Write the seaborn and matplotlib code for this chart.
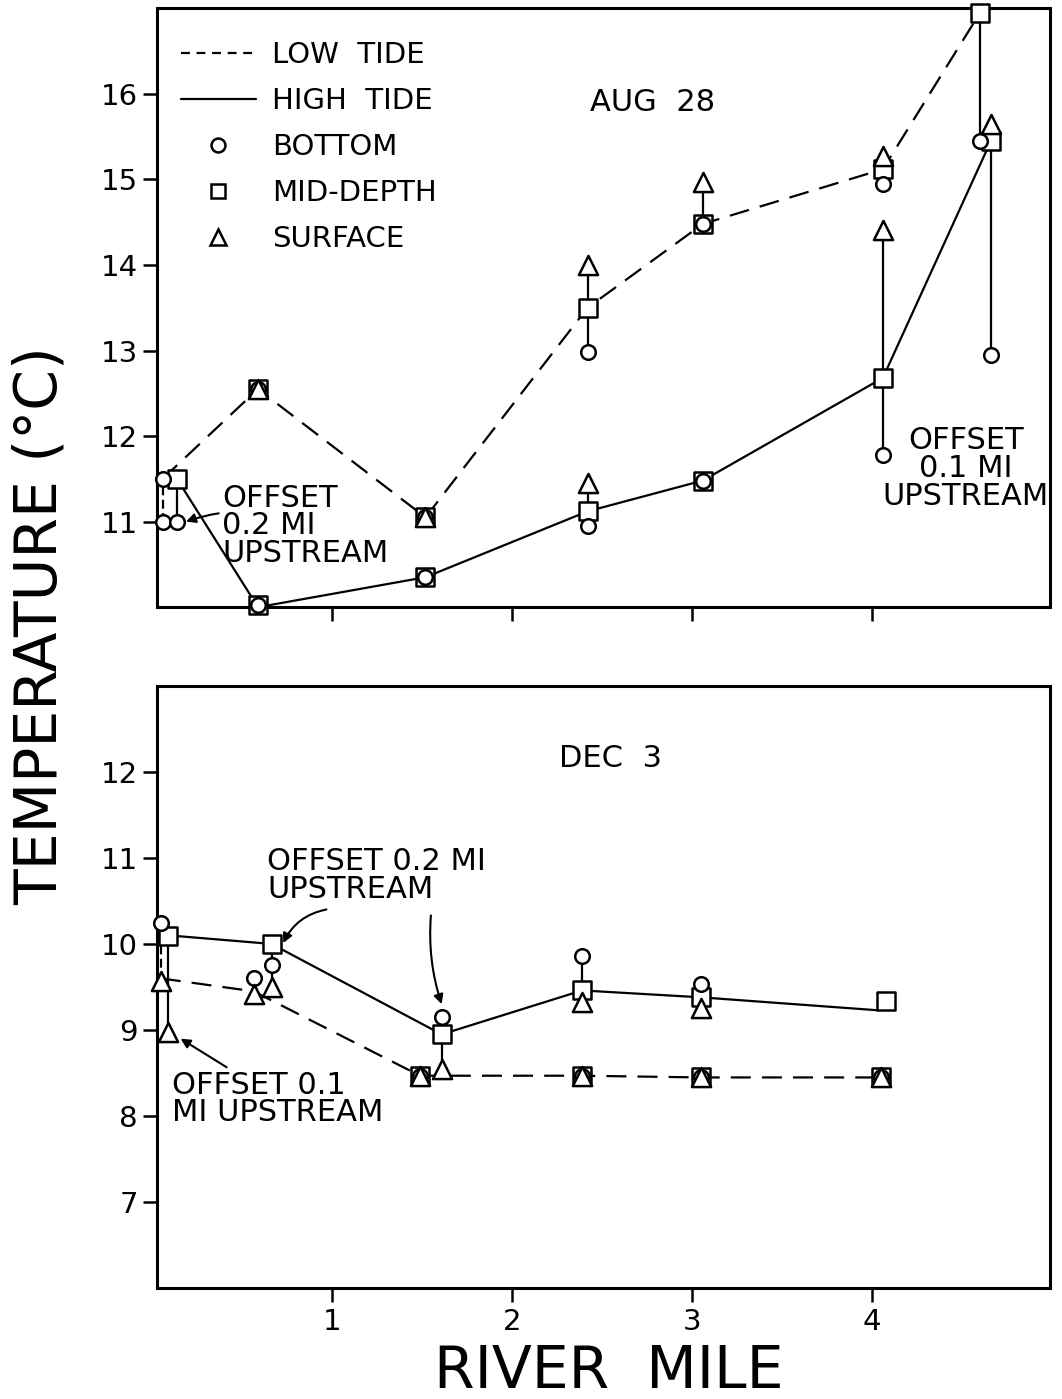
import pandas as pd
import matplotlib
matplotlib.use("Agg")
import matplotlib.pyplot as plt
from matplotlib.lines import Line2D
import seaborn as sns

# ---- Aug 28: tide lines
aug_low_mile = [0.06, 0.59, 1.52, 2.42, 3.06, 4.06, 4.60]
aug_low_temp = [11.5, 12.55, 11.05, 13.5, 14.48, 15.12, 16.95]
aug_high_mile = [0.14, 0.59, 1.52, 2.42, 3.06, 4.06, 4.66]
aug_high_temp = [11.5, 10.0, 10.35, 11.12, 11.48, 12.68, 15.45]

# ---- Aug 28: individual depth readings
aug_tide = ["low", "low", "high", "high",
            "low", "low", "low", "high", "high",
            "low", "low", "low", "high", "high",
            "low", "low", "low", "high", "high", "high",
            "low", "low", "low", "high", "high",
            "low", "low", "low", "high", "high", "high",
            "low", "low", "high", "high", "high"]
aug_mile = [0.06, 0.06, 0.14, 0.14,
            0.59, 0.59, 0.59, 0.59, 0.59,
            1.52, 1.52, 1.52, 1.52, 1.52,
            2.42, 2.42, 2.42, 2.42, 2.42, 2.42,
            3.06, 3.06, 3.06, 3.06, 3.06,
            4.06, 4.06, 4.06, 4.06, 4.06, 4.06,
            4.60, 4.60, 4.66, 4.66, 4.66]
aug_depth = ["bottom", "bottom", "mid", "bottom",
             "mid", "bottom", "surface", "mid", "bottom",
             "mid", "bottom", "surface", "mid", "bottom",
             "surface", "mid", "bottom", "surface", "mid", "bottom",
             "surface", "mid", "bottom", "mid", "bottom",
             "surface", "mid", "bottom", "surface", "mid", "bottom",
             "mid", "bottom", "surface", "mid", "bottom"]
aug_temp = [11.5, 11.0, 11.5, 11.0,
            12.55, 12.55, 12.55, 10.02, 10.02,
            11.05, 11.05, 11.05, 10.35, 10.35,
            14.0, 13.5, 12.98, 11.45, 11.12, 10.95,
            14.97, 14.48, 14.48, 11.48, 11.48,
            15.27, 15.12, 14.95, 14.41, 12.68, 11.78,
            16.95, 15.45, 15.65, 15.45, 12.95]

# ---- Dec 3: tide lines
dec_low_mile = [0.05, 0.565, 1.49, 2.39, 3.05, 4.05]
dec_low_temp = [9.6, 9.45, 8.47, 8.47, 8.45, 8.45]
dec_high_mile = [0.09, 0.665, 1.61, 2.39, 3.05, 4.03]
dec_high_temp = [10.1, 10.0, 8.95, 9.46, 9.38, 9.23]

# ---- Dec 3: individual depth readings
dec_tide = ["low", "low", "high", "high",
            "low", "low", "high", "high", "high",
            "low", "low", "low", "high", "high", "high",
            "low", "low", "low", "high", "high", "high",
            "low", "low", "low", "high", "high", "high",
            "low", "low", "low", "high"]
dec_mile = [0.05, 0.05, 0.09, 0.09,
            0.565, 0.565, 0.665, 0.665, 0.665,
            1.49, 1.49, 1.49, 1.61, 1.61, 1.61,
            2.39, 2.39, 2.39, 2.39, 2.39, 2.39,
            3.05, 3.05, 3.05, 3.05, 3.05, 3.05,
            4.05, 4.05, 4.05, 4.08]
dec_depth = ["bottom", "surface", "mid", "surface",
             "bottom", "surface", "mid", "bottom", "surface",
             "mid", "bottom", "surface", "bottom", "mid", "surface",
             "mid", "bottom", "surface", "bottom", "mid", "surface",
             "mid", "bottom", "surface", "bottom", "mid", "surface",
             "mid", "bottom", "surface", "mid"]
dec_temp = [10.24, 9.57, 10.09, 8.98,
            9.6, 9.42, 10.0, 9.76, 9.5,
            8.47, 8.47, 8.47, 9.15, 8.95, 8.55,
            8.47, 8.47, 8.47, 9.86, 9.46, 9.32,
            8.45, 8.45, 8.45, 9.53, 9.38, 9.26,
            8.45, 8.45, 8.45, 9.34]

y_ticks_aug = [11, 12, 13, 14, 15, 16]
y_ticks_dec = [7, 8, 9, 10, 11, 12]
x_ticks = [1, 2, 3, 4]

sns.set_theme(style="ticks")
plt.rcParams["font.family"] = ["DejaVu Sans"]
plt.rcParams["text.color"] = "black"
plt.rcParams["axes.labelcolor"] = "black"

markers = {"mid": ("s", 150), "bottom": ("o", 110), "surface": ("^", 190)}

fig = plt.figure(figsize=(10.62, 13.99), dpi=100)
ax1 = fig.add_axes([0.148, 0.566, 0.841, 0.428])
ax2 = fig.add_axes([0.148, 0.079, 0.841, 0.431])


def draw_panel(ax, low_m, low_t, high_m, high_t, tide, mile, depth, temp):
    lines = pd.DataFrame({
        "mile": low_m + high_m,
        "temp": low_t + high_t,
        "tide": ["low"] * len(low_m) + ["high"] * len(high_m),
    })
    sns.lineplot(data=lines, x="mile", y="temp", style="tide",
                 dashes={"low": (9, 5), "high": ""}, color="black",
                 linewidth=1.6, sort=False, estimator=None, legend=False,
                 ax=ax, zorder=2)

    pts = pd.DataFrame({"tide": tide, "mile": mile, "depth": depth, "temp": temp})
    # vertical connectors within each profile
    for (td, m), g in pts.groupby(["tide", "mile"]):
        lo, hi = g["temp"].min(), g["temp"].max()
        if hi - lo > 0.01:
            ls = (0, (4, 2)) if (td == "low" and m < 0.1) else "-"
            ax.plot([m, m], [lo, hi], color="black", lw=1.6, ls=ls, zorder=2)

    for d in ["mid", "bottom", "surface"]:
        mk, s = markers[d]
        sub = pts[pts["depth"] == d]
        sns.scatterplot(data=sub, x="mile", y="temp", marker=mk, s=s,
                        color="white", edgecolor="black", linewidth=1.8,
                        legend=False, ax=ax, zorder=3, clip_on=False)


draw_panel(ax1, aug_low_mile, aug_low_temp, aug_high_mile, aug_high_temp,
           aug_tide, aug_mile, aug_depth, aug_temp)
draw_panel(ax2, dec_low_mile, dec_low_temp, dec_high_mile, dec_high_temp,
           dec_tide, dec_mile, dec_depth, dec_temp)

for ax, yt, ylim in [(ax1, y_ticks_aug, (10, 17)), (ax2, y_ticks_dec, (6, 13))]:
    ax.set_xlim(0.03, 4.99)
    ax.set_ylim(*ylim)
    ax.set_xticks(x_ticks)
    ax.set_yticks(yt)
    ax.set_xlabel("")
    ax.set_ylabel("")
    for sp in ax.spines.values():
        sp.set_visible(True)
        sp.set_linewidth(2.2)
        sp.set_color("black")
    ax.tick_params(axis="both", direction="out", length=10, width=1.8,
                   colors="black", labelsize=21, pad=4)

ax1.set_xticklabels([])
ax2.set_xticklabels([str(t) for t in x_ticks])
ax1.set_yticklabels([str(t) for t in y_ticks_aug])
ax2.set_yticklabels([str(t) for t in y_ticks_dec])

# legend in the upper panel
handles = [
    Line2D([], [], color="black", lw=1.6, ls=(0, (4, 3))),
    Line2D([], [], color="black", lw=1.6, ls="-"),
    Line2D([], [], color="black", marker="o", ls="", mfc="white", mew=1.8, ms=10),
    Line2D([], [], color="black", marker="s", ls="", mfc="white", mew=1.8, ms=10),
    Line2D([], [], color="black", marker="^", ls="", mfc="white", mew=1.8, ms=11),
]
labels = ["LOW  TIDE", "HIGH  TIDE", "BOTTOM", "MID-DEPTH", "SURFACE"]
leg = ax1.legend(handles, labels, loc="upper left", bbox_to_anchor=(0.0, 0.985),
                 frameon=False, fontsize=21, handlelength=2.6, handletextpad=0.55,
                 labelspacing=0.62, borderaxespad=0.4)
for t in leg.get_texts():
    t.set_color("black")

ax1.text(2.78, 15.9, "AUG  28", fontsize=22, ha="center", va="center")
ax2.text(2.55, 12.15, "DEC  3", fontsize=22, ha="center", va="center")

txt = dict(fontsize=22, linespacing=0.95, ha="left", va="center")
arrow = dict(arrowstyle="-|>", color="black", lw=1.5, mutation_scale=14,
             shrinkA=0, shrinkB=0)

ax1.annotate("OFFSET\n0.2 MI\nUPSTREAM", xy=(0.19, 11.0), xytext=(0.39, 10.95),
             arrowprops=dict(connectionstyle="arc3,rad=0.2", **arrow), **txt)
ax1.text(4.52, 11.62, "OFFSET\n0.1 MI\nUPSTREAM", fontsize=22,
         linespacing=0.95, ha="center", va="center", multialignment="center")

ax2.text(0.64, 10.79, "OFFSET 0.2 MI\nUPSTREAM", **txt)
ax2.annotate("", xy=(0.73, 10.01), xytext=(0.97, 10.4),
             arrowprops=dict(connectionstyle="arc3,rad=0.25", **arrow))
ax2.annotate("", xy=(1.61, 9.3), xytext=(1.55, 10.33),
             arrowprops=dict(connectionstyle="arc3,rad=0.1", **arrow))
ax2.annotate("OFFSET 0.1\nMI UPSTREAM", xy=(0.16, 8.9), xytext=(0.113, 8.2),
             arrowprops=dict(connectionstyle="arc3,rad=0", **arrow), **txt)

fig.text(0.038, 0.553, "TEMPERATURE (°C)", rotation=90, fontsize=42,
         ha="center", va="center")
fig.text(0.573, 0.02, "RIVER  MILE", fontsize=42, ha="center", va="center")

fig.savefig("out.png", dpi=100, facecolor="white")
